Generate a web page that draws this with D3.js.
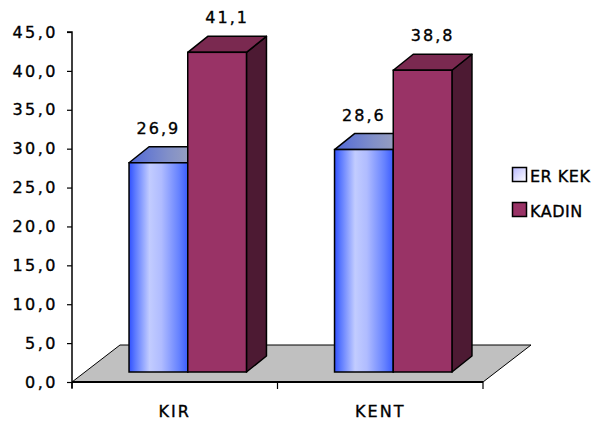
<!DOCTYPE html>
<html>
<head>
<meta charset="utf-8">
<script src="https://cdn.jsdelivr.net/npm/d3@7"></script>
<style>
  html, body { margin: 0; padding: 0; background: #fff; }
  svg { display: block; }
  text { font-family: "DejaVu Sans", Verdana, sans-serif; fill: #000; stroke: #000; stroke-width: 0.35px; }
</style>
</head>
<body>
<svg id="chart" width="594" height="423"></svg>
<script>
// Chart data
const categories = ["KIR", "KENT"];
const seriesNames = ["ERKEK", "KADIN"];
const erkekValues = [26.9, 28.6];
const kadinValues = [41.1, 38.8];
const yTickValues = [0, 5, 10, 15, 20, 25, 30, 35, 40, 45];

const seriesValues = [erkekValues, kadinValues];

const svg = d3.select("#chart");
const defs = svg.append("defs");

// Plot geometry (front plane of the 3D box)
const plotLeft = 72, plotRight = 483, plotBottom = 382, plotTop = 32;
const floorDepth = { dx: 48, dy: -37 };   // full depth of the floor
const barFront = { dx: 13, dy: -10 };     // where bar fronts sit inside the depth
const barDepth = { dx: 20, dy: -16 };     // depth of each bar

const y = d3.scaleLinear().domain([0, 45]).range([plotBottom, plotTop]);
const gap = 1.5 / 3.5;
const x0 = d3.scaleBand().domain(categories).range([plotLeft, plotRight])
  .paddingInner(gap).paddingOuter(gap / 2);
const x1 = d3.scaleBand().domain(seriesNames).range([0, x0.bandwidth()]);
const xCat = d3.scaleBand().domain(categories).range([plotLeft, plotRight]);

// Gradients for the blue series
const g1 = defs.append("linearGradient").attr("id", "erkekFront")
  .attr("x1", "0").attr("x2", "1").attr("y1", "0").attr("y2", "0");
[["0%", "#3050ff"], ["10%", "#5a78ff"], ["35%", "#c2ccff"], ["55%", "#b0bcff"],
 ["85%", "#6682ff"], ["100%", "#3c5cff"]].forEach(([o, c]) =>
  g1.append("stop").attr("offset", o).attr("stop-color", c));

const g2 = defs.append("linearGradient").attr("id", "erkekTop")
  .attr("x1", "0").attr("x2", "1").attr("y1", "0").attr("y2", "0");
[["0%", "#5068d8"], ["50%", "#8290c8"], ["100%", "#a8aab8"]].forEach(([o, c]) =>
  g2.append("stop").attr("offset", o).attr("stop-color", c));

const g3 = defs.append("linearGradient").attr("id", "erkekLegend")
  .attr("x1", "0").attr("x2", "1").attr("y1", "0").attr("y2", "1");
[["0%", "#b8b8ff"], ["100%", "#ffffff"]].forEach(([o, c]) =>
  g3.append("stop").attr("offset", o).attr("stop-color", c));

const palette = {
  ERKEK: { front: "url(#erkekFront)", top: "url(#erkekTop)", side: "#2a3a9a", legend: "url(#erkekLegend)" },
  KADIN: { front: "#993366", top: "#7a2950", side: "#4d1a33", legend: "#993366" }
};

const pts = a => a.map(p => p.join(",")).join(" ");

// Floor
svg.append("polygon")
  .attr("points", pts([
    [plotLeft, plotBottom],
    [plotLeft + floorDepth.dx, plotBottom + floorDepth.dy],
    [plotRight + floorDepth.dx, plotBottom + floorDepth.dy],
    [plotRight, plotBottom]
  ]))
  .attr("fill", "#c0c0c0").attr("stroke", "#000").attr("stroke-width", 1);

// Front edge of the floor / category axis
svg.append("line")
  .attr("x1", plotLeft).attr("x2", plotRight).attr("y1", plotBottom).attr("y2", plotBottom)
  .attr("stroke", "#000").attr("stroke-width", 2);

// Category ticks at band boundaries
const catBounds = [plotLeft].concat(categories.map(c => xCat(c) + xCat.bandwidth()));
svg.selectAll(".xtick").data(catBounds).enter().append("line")
  .attr("x1", d => d).attr("x2", d => d)
  .attr("y1", plotBottom).attr("y2", plotBottom + 7)
  .attr("stroke", "#000").attr("stroke-width", 1.2);

// Category labels
svg.selectAll(".xlabel").data(categories).enter().append("text")
  .attr("x", d => xCat(d) + xCat.bandwidth() / 2)
  .attr("y", 417)
  .attr("text-anchor", "middle")
  .style("font-size", "16px").style("letter-spacing", "2px")
  .text(d => d);

// Value axis
const yAxis = d3.axisLeft(y).tickValues(yTickValues)
  .tickSize(5).tickPadding(9)
  .tickFormat(d => d3.format(".1f")(d).replace(".", ","));
const ya = svg.append("g").attr("transform", `translate(${plotLeft},0)`).call(yAxis);
ya.select(".domain").attr("stroke", "#000").attr("stroke-width", 1.5)
  .attr("d", `M-5,${plotTop}H0V${plotBottom + 6}`);
ya.selectAll(".tick line").attr("stroke", "#000").attr("stroke-width", 1.2);
ya.selectAll(".tick text")
  .style("font-family", "'DejaVu Sans', Verdana, sans-serif")
  .style("font-size", "16px").style("letter-spacing", "2.5px")
  .attr("fill", "#000");

// Bars
const bars = [];
categories.forEach((c, ci) => {
  seriesNames.forEach((s, si) => {
    bars.push({ cat: c, series: s, si, value: seriesValues[si][ci] });
  });
});

const barG = svg.append("g");
bars.forEach(b => {
  const w = x1.bandwidth();
  const fx = x0(b.cat) + x1(b.series) + barFront.dx;
  const fyTop = y(b.value) + barFront.dy;
  const fyBot = y(0) + barFront.dy;
  const col = palette[b.series];
  const g = barG.append("g");
  // right side
  g.append("polygon").attr("points", pts([
    [fx + w, fyTop], [fx + w + barDepth.dx, fyTop + barDepth.dy],
    [fx + w + barDepth.dx, fyBot + barDepth.dy], [fx + w, fyBot]
  ])).attr("fill", col.side).attr("stroke", "#000").attr("stroke-width", 1.5)
    .attr("stroke-linejoin", "round");
  // top
  g.append("polygon").attr("points", pts([
    [fx, fyTop], [fx + barDepth.dx, fyTop + barDepth.dy],
    [fx + w + barDepth.dx, fyTop + barDepth.dy], [fx + w, fyTop]
  ])).attr("fill", col.top).attr("stroke", "#000").attr("stroke-width", 1.5)
    .attr("stroke-linejoin", "round");
  // front
  g.append("rect").attr("x", fx).attr("y", fyTop)
    .attr("width", w).attr("height", fyBot - fyTop)
    .attr("fill", col.front).attr("stroke", "#000").attr("stroke-width", 1.5);
});

// Value labels above each bar
svg.selectAll(".vlabel").data(bars).enter().append("text")
  .attr("x", b => x0(b.cat) + x1(b.series) + barFront.dx + x1.bandwidth() / 2
    + (b.si === 1 ? barDepth.dx / 2 : 0))
  .attr("y", b => y(b.value) + barFront.dy + barDepth.dy - 13)
  .attr("text-anchor", "middle")
  .style("font-size", "16px").style("letter-spacing", "2px")
  .text(b => d3.format(".1f")(b.value).replace(".", ","));

// Legend
const legend = svg.append("g").attr("transform", "translate(512,167)");
seriesNames.forEach((s, i) => {
  const g = legend.append("g").attr("transform", `translate(0,${i * 35})`);
  g.append("rect").attr("x", 0.5).attr("y", 0.5).attr("width", 14).attr("height", 14)
    .attr("fill", palette[s].legend).attr("stroke", "#000").attr("stroke-width", 1.5);
  g.append("text").attr("x", 18).attr("y", 14.5)
    .style("font-size", "16px").style("letter-spacing", "0.5px")
    .text(s === "ERKEK" ? "ER KEK" : s);
});
</script>
</body>
</html>
